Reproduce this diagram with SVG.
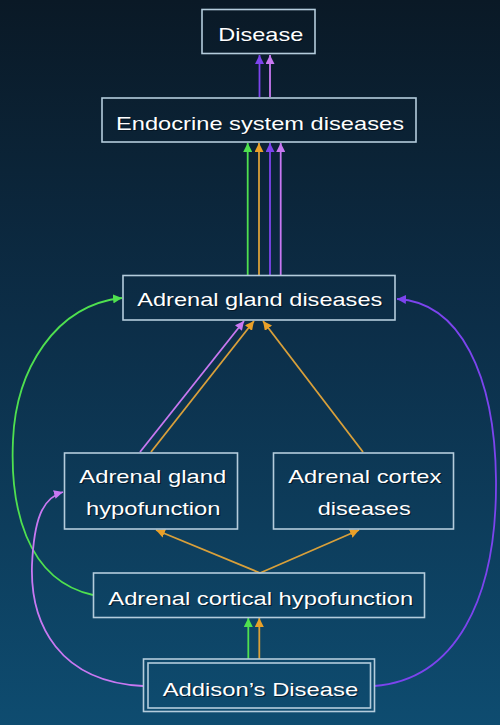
<svg xmlns="http://www.w3.org/2000/svg" width="500" height="725" viewBox="0 0 500 725">
  <defs>
    <linearGradient id="bg" x1="0" y1="0" x2="0" y2="1">
      <stop offset="0" stop-color="#0a1926"/>
      <stop offset="0.45" stop-color="#0c2e48"/>
      <stop offset="1" stop-color="#0e4c70"/>
    </linearGradient>
    <marker id="ah-green" viewBox="0 0 10 10" refX="10" refY="5" markerWidth="9" markerHeight="9" markerUnits="userSpaceOnUse" orient="auto">
      <path d="M0,0 L10,5 L0,10 Z" fill="#4fe04f"/>
    </marker>
    <marker id="ah-orange" viewBox="0 0 10 10" refX="10" refY="5" markerWidth="9" markerHeight="9" markerUnits="userSpaceOnUse" orient="auto">
      <path d="M0,0 L10,5 L0,10 Z" fill="#eaa028"/>
    </marker>
    <marker id="ah-purple" viewBox="0 0 10 10" refX="10" refY="5" markerWidth="9" markerHeight="9" markerUnits="userSpaceOnUse" orient="auto">
      <path d="M0,0 L10,5 L0,10 Z" fill="#7c44ee"/>
    </marker>
    <marker id="ah-pink" viewBox="0 0 10 10" refX="10" refY="5" markerWidth="9" markerHeight="9" markerUnits="userSpaceOnUse" orient="auto">
      <path d="M0,0 L10,5 L0,10 Z" fill="#c878f2"/>
    </marker>
  </defs>
  <style>
    .box { fill: none; stroke: #b4ccdc; stroke-width: 1.6; }
    .lbl { font-family: "Liberation Sans", Arial, sans-serif; font-size: 19px; fill: #ffffff; }
    .shadow { fill: #04121e; opacity: 0.8; }
    .edge { fill: none; stroke-width: 1.8; }
    .green { stroke: #4fe04f; marker-end: url(#ah-green); }
    .orange { stroke: #d9a03a; marker-end: url(#ah-orange); }
    .purple { stroke: #7c44ee; marker-end: url(#ah-purple); }
    .pink { stroke: #c878f2; marker-end: url(#ah-pink); }
  </style>

  <rect x="0" y="0" width="500" height="725" fill="url(#bg)"/>

  <!-- connectors -->
  <g id="connectors">
    <!-- Endocrine system diseases -> Disease -->
    <path class="edge purple" d="M259.5,97 L259.5,55"/>
    <path class="edge pink" d="M270,97 L270,55"/>
    <!-- Adrenal gland diseases -> Endocrine system diseases -->
    <path class="edge green" d="M247.7,275 L247.7,143"/>
    <path class="edge orange" d="M259,275 L259,143"/>
    <path class="edge purple" d="M270,275 L270,143"/>
    <path class="edge pink" d="M280.7,275 L280.7,143"/>
    <!-- Adrenal gland hypofunction -> Adrenal gland diseases -->
    <path class="edge pink" d="M140,452 L244,321"/>
    <path class="edge orange" d="M151,452 L254,321"/>
    <!-- Adrenal cortex diseases -> Adrenal gland diseases -->
    <path class="edge orange" d="M363,452 L263,321"/>
    <!-- Adrenal cortical hypofunction -> upper nodes -->
    <path class="edge orange" d="M260,573 L156,530"/>
    <path class="edge orange" d="M260,573 L359,530"/>
    <path class="edge green" d="M93,595 C25,580 10,505 13,440 C16,370 55,305 122,298"/>
    <!-- Addison's Disease -> upper nodes -->
    <path class="edge green" d="M248.3,659 L248.3,618"/>
    <path class="edge orange" d="M259.3,659 L259.3,618"/>
    <path class="edge pink" d="M143,686 C60,682 30,625 32,565 C34,520 42,498 63,492"/>
    <path class="edge purple" d="M374,686 C455,680 497,600 496,480 C495,375 460,302 397,299"/>
  </g>

  <!-- nodes -->
  <g id="node-disease">
    <rect class="box" x="202" y="9.5" width="113" height="44"/>
    <text class="lbl shadow" x="219.5" y="42" textLength="85" lengthAdjust="spacingAndGlyphs">Disease</text>
    <text class="lbl" x="218.3" y="41" textLength="85" lengthAdjust="spacingAndGlyphs">Disease</text>
  </g>

  <g id="node-endocrine">
    <rect class="box" x="102" y="98" width="314" height="44"/>
    <text class="lbl shadow" x="117.2" y="131" textLength="288" lengthAdjust="spacingAndGlyphs">Endocrine system diseases</text>
    <text class="lbl" x="116" y="130" textLength="288" lengthAdjust="spacingAndGlyphs">Endocrine system diseases</text>
  </g>

  <g id="node-adrenal-gland">
    <rect class="box" x="123" y="275.5" width="272" height="44.5"/>
    <text class="lbl shadow" x="138.5" y="307" textLength="245" lengthAdjust="spacingAndGlyphs">Adrenal gland diseases</text>
    <text class="lbl" x="137.3" y="306" textLength="245" lengthAdjust="spacingAndGlyphs">Adrenal gland diseases</text>
  </g>

  <g id="node-gland-hypofunction">
    <rect class="box" x="64.5" y="453" width="173" height="76"/>
    <text class="lbl shadow" x="80.5" y="484" textLength="147" lengthAdjust="spacingAndGlyphs">Adrenal gland</text>
    <text class="lbl" x="79.3" y="483" textLength="147" lengthAdjust="spacingAndGlyphs">Adrenal gland</text>
    <text class="lbl shadow" x="87.2" y="516" textLength="134.5" lengthAdjust="spacingAndGlyphs">hypofunction</text>
    <text class="lbl" x="86" y="515" textLength="134.5" lengthAdjust="spacingAndGlyphs">hypofunction</text>
  </g>

  <g id="node-cortex-diseases">
    <rect class="box" x="273.5" y="453" width="180" height="76"/>
    <text class="lbl shadow" x="289.5" y="484" textLength="153" lengthAdjust="spacingAndGlyphs">Adrenal cortex</text>
    <text class="lbl" x="288.3" y="483" textLength="153" lengthAdjust="spacingAndGlyphs">Adrenal cortex</text>
    <text class="lbl shadow" x="318.9" y="516" textLength="93" lengthAdjust="spacingAndGlyphs">diseases</text>
    <text class="lbl" x="317.7" y="515" textLength="93" lengthAdjust="spacingAndGlyphs">diseases</text>
  </g>

  <g id="node-cortical-hypofunction">
    <rect class="box" x="93.5" y="573" width="331" height="44.5"/>
    <text class="lbl shadow" x="109.5" y="606" textLength="305" lengthAdjust="spacingAndGlyphs">Adrenal cortical hypofunction</text>
    <text class="lbl" x="108.3" y="605" textLength="305" lengthAdjust="spacingAndGlyphs">Adrenal cortical hypofunction</text>
  </g>

  <g id="node-addison">
    <rect class="box" x="143.5" y="659" width="231" height="52.5"/>
    <rect class="box" x="148" y="663" width="222.5" height="45"/>
    <text class="lbl shadow" x="163.9" y="696.5" textLength="195.5" lengthAdjust="spacingAndGlyphs">Addison’s Disease</text>
    <text class="lbl" x="162.7" y="695.5" textLength="195.5" lengthAdjust="spacingAndGlyphs">Addison’s Disease</text>
  </g>
</svg>
